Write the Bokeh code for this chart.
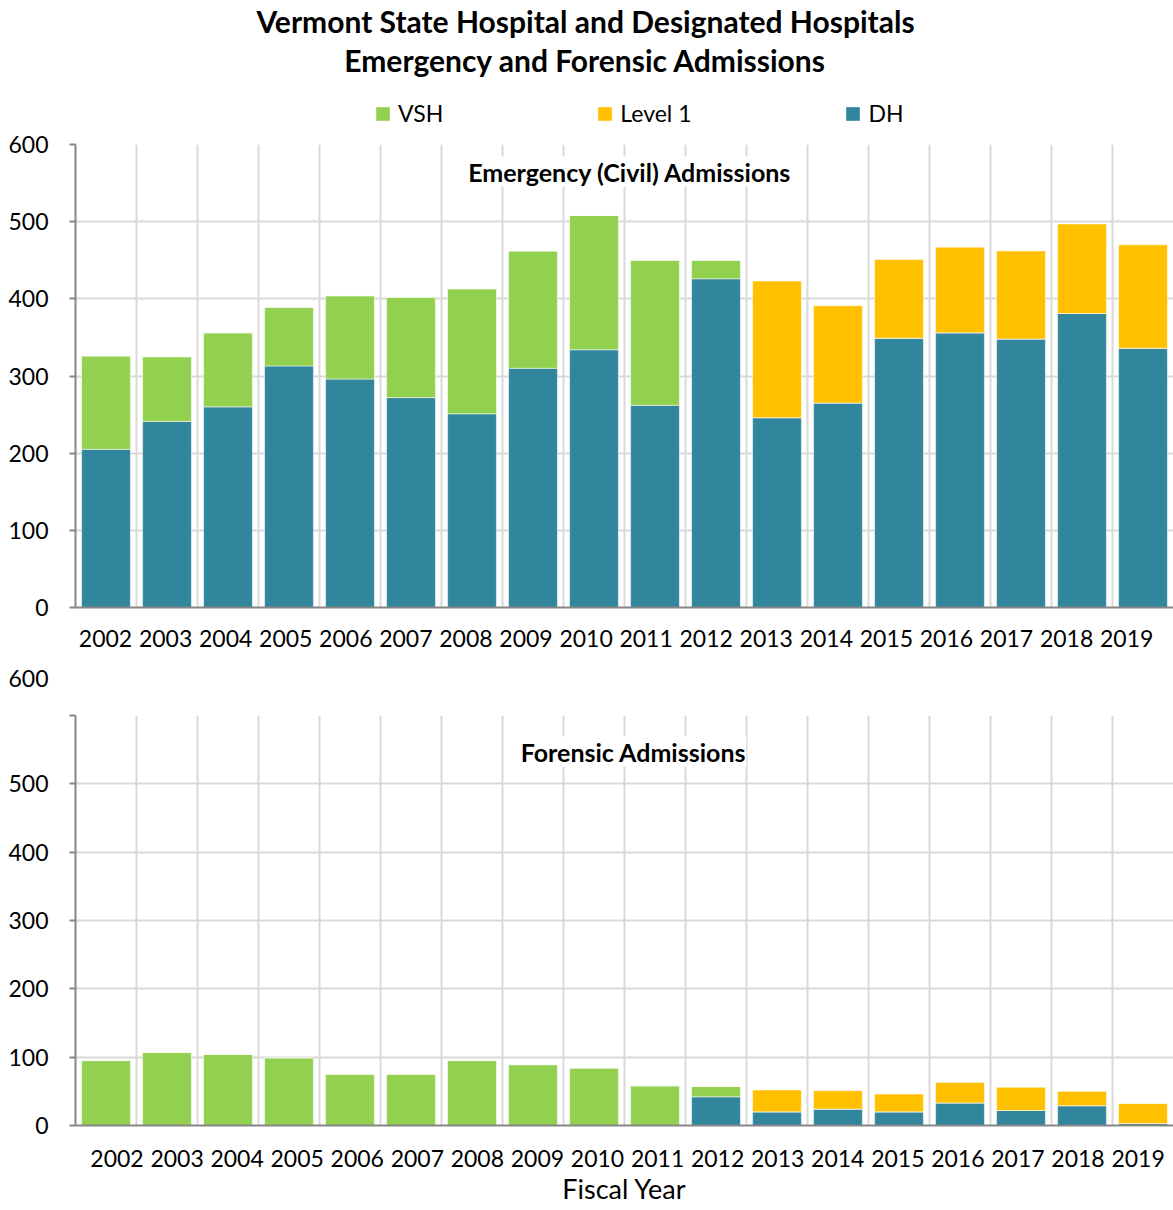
from bokeh.plotting import figure
from bokeh.models import (Range1d, FixedTicker, LinearAxis, Grid, Label, Legend,
                          LegendItem, ColumnDataSource, CustomJSTickFormatter)
from bokeh.layouts import column
from bokeh.embed import file_html
from bokeh.resources import INLINE

# ---------------- data ----------------
years = ["2002", "2003", "2004", "2005", "2006", "2007", "2008", "2009", "2010",
         "2011", "2012", "2013", "2014", "2015", "2016", "2017", "2018", "2019"]

civil_dh = [205, 241, 260, 313, 296, 272, 251, 310, 334, 262, 426, 246, 265, 349, 356, 348, 381, 336]
civil_vsh = [121, 84, 96, 76, 108, 130, 162, 152, 174, 188, 24, 0, 0, 0, 0, 0, 0, 0]
civil_level1 = [0, 0, 0, 0, 0, 0, 0, 0, 0, 0, 0, 177, 126, 102, 111, 114, 116, 134]

forensic_dh = [0, 0, 0, 0, 0, 0, 0, 0, 0, 0, 42, 20, 24, 20, 33, 22, 29, 3]
forensic_vsh = [95, 107, 104, 99, 75, 75, 95, 89, 84, 58, 15, 0, 0, 0, 0, 0, 0, 0]
forensic_level1 = [0, 0, 0, 0, 0, 0, 0, 0, 0, 0, 0, 32, 27, 26, 30, 34, 21, 29]

y_ticks = [0, 100, 200, 300, 400, 500, 600]
series_names = ["VSH", "Level 1", "DH"]

# ---------------- style ----------------
FONT = "Lato"
GREEN = "#92D050"
GOLD = "#FFC000"
TEAL = "#31859C"
GRID = "#D9D9D9"
AXIS = "#868686"
W = 1173
LEFT = 75
TICK_FS = "23px"


def blank_fig(height, y_top, y_bottom, y_axis=None):
    f = figure(width=W, height=height, x_range=Range1d(LEFT, W), y_range=Range1d(y_bottom, y_top),
               x_axis_type=None, y_axis_type=y_axis, output_backend="svg",
               toolbar_location=None, min_border_left=LEFT, min_border_right=0,
               min_border_top=0, min_border_bottom=0, outline_line_color=None,
               background_fill_color="white", border_fill_color="white")
    return f


def make_chart(height, top, bottom, dh, vsh, l1, lab_range, y_fmt_code, lab_standoff):
    n = len(years)
    src = ColumnDataSource(dict(x=[i + 0.5 for i in range(n)], year=years,
                                dh=dh, vsh=vsh, l1=l1))
    p = figure(width=W, height=height, x_range=Range1d(0, n), y_range=Range1d(0, 600),
               x_axis_type=None, output_backend="svg", toolbar_location=None,
               min_border_left=LEFT, min_border_right=0, min_border_top=top,
               min_border_bottom=bottom, background_fill_color="white",
               border_fill_color="white", outline_line_color=None)
    rs = p.vbar_stack(["dh", "vsh", "l1"], x="x", width=0.8, source=src,
                      fill_color=[TEAL, GREEN, GOLD], line_color="white",
                      line_width=1, line_alpha=0.5)

    ya = p.yaxis[0]
    ya.ticker = FixedTicker(ticks=y_ticks)
    ya.formatter = CustomJSTickFormatter(code=y_fmt_code)
    ya.axis_line_color = AXIS
    ya.axis_line_width = 2
    ya.major_tick_out = 6
    ya.major_tick_in = 0
    ya.major_tick_line_color = AXIS
    ya.major_tick_line_width = 2
    ya.minor_tick_line_color = None
    ya.major_label_text_font = FONT
    ya.major_label_text_font_size = TICK_FS
    ya.major_label_text_color = "black"
    ya.major_label_standoff = 21

    p.ygrid.ticker = FixedTicker(ticks=y_ticks)
    p.ygrid.grid_line_color = GRID
    p.ygrid.grid_line_width = 2
    p.add_layout(Grid(dimension=0, ticker=FixedTicker(ticks=list(range(1, n))),
                      grid_line_color=GRID, grid_line_width=2))

    p.extra_x_ranges = {"lab": Range1d(*lab_range)}
    xa = LinearAxis(x_range_name="lab",
                    ticker=FixedTicker(ticks=[i + 0.5 for i in range(n)]),
                    formatter=CustomJSTickFormatter(args=dict(years=years),
                                                    code="return years[Math.floor(tick)];"))
    xa.axis_line_color = AXIS
    xa.axis_line_width = 2
    xa.major_tick_out = 0
    xa.major_tick_in = 0
    xa.major_tick_line_color = None
    xa.minor_tick_line_color = None
    xa.major_label_text_font = FONT
    xa.major_label_text_font_size = TICK_FS
    xa.major_label_text_color = "black"
    xa.major_label_standoff = lab_standoff
    p.add_layout(xa, "below")
    return p, rs, xa


# ---------------- header: title + legend ----------------
HEAD_H = 128
header = blank_fig(HEAD_H, 0, HEAD_H)
header.add_layout(Label(x=585, y=20.5, text="Vermont State Hospital and Designated Hospitals",
                        text_align="center", text_baseline="middle", text_font=FONT,
                        text_font_style="bold", text_font_size="30px", text_color="black"))
header.add_layout(Label(x=585, y=59, text="Emergency and Forensic Admissions",
                        text_align="center", text_baseline="middle", text_font=FONT,
                        text_font_style="bold", text_font_size="30px", text_color="black"))
leg_src = ColumnDataSource(dict(x=[float("nan")], top=[float("nan")]))
leg_rs = [header.vbar(x="x", top="top", width=1, source=leg_src, fill_color=c,
                      line_color=None)
          for c in (GREEN, GOLD, TEAL)]
legend = Legend(items=[LegendItem(label=nm, renderers=[r]) for nm, r in zip(series_names, leg_rs)],
                orientation="horizontal", location=(374 - LEFT, HEAD_H - 127),
                spacing=153, padding=0, margin=0, glyph_width=17, glyph_height=17,
                label_standoff=7, label_height=26, label_text_font=FONT,
                label_text_font_size=TICK_FS, label_text_color="black",
                background_fill_alpha=0, border_line_color=None)
header.add_layout(legend)

# ---------------- top chart ----------------
top_h = 530
top_frame_h = top_h - 16 - 51
p1, rs1, xa1 = make_chart(top_h, 16, 51, civil_dh, civil_vsh, civil_level1,
                          (0.0, 18.28), "return tick.toString();", 22)
p1.add_layout(Label(x=554.5, y=top_frame_h - 27, x_units="screen", y_units="screen",
                    text="Emergency (Civil) Admissions",
                    text_align="center", text_baseline="middle", text_font=FONT,
                    text_font_style="bold", text_font_size="25px", text_color="black",
                    background_fill_color="white"))

# ---------------- middle strip: displaced "600" label of the lower chart ----------------
mid = blank_fig(36, 658, 694, y_axis="linear")
may = mid.yaxis[0]
may.ticker = FixedTicker(ticks=[678])
may.formatter = CustomJSTickFormatter(args=dict(lab=str(y_ticks[-1])), code="return lab;")
may.axis_line_color = None
may.major_tick_line_color = None
may.minor_tick_line_color = None
may.major_tick_out = 0
may.major_tick_in = 0
may.major_label_standoff = 27
may.major_label_text_font = FONT
may.major_label_text_font_size = TICK_FS
may.major_label_text_color = "black"
mid.ygrid.grid_line_color = None

# ---------------- bottom chart ----------------
bot_h = 516
bot_top, bot_bottom = 21, 85
bot_frame_h = bot_h - bot_top - bot_bottom
p2, rs2, xa2 = make_chart(bot_h, bot_top, bot_bottom, forensic_dh, forensic_vsh, forensic_level1,
                          (-0.191, 18.09), "return tick == 600 ? '' : tick.toString();", 24)
xa2.axis_label = "Fiscal Year"
xa2.axis_label_text_font = FONT
xa2.axis_label_text_font_style = "normal"
xa2.axis_label_text_font_size = "27px"
xa2.axis_label_text_color = "black"
xa2.axis_label_standoff = 2
p2.add_layout(Label(x=558, y=bot_frame_h - 36, x_units="screen", y_units="screen",
                    text="Forensic Admissions",
                    text_align="center", text_baseline="middle", text_font=FONT,
                    text_font_style="bold", text_font_size="25px", text_color="black",
                    background_fill_color="white"))

layout = column(header, p1, mid, p2, spacing=0)
open("out.html", "w").write(file_html(layout, INLINE))
